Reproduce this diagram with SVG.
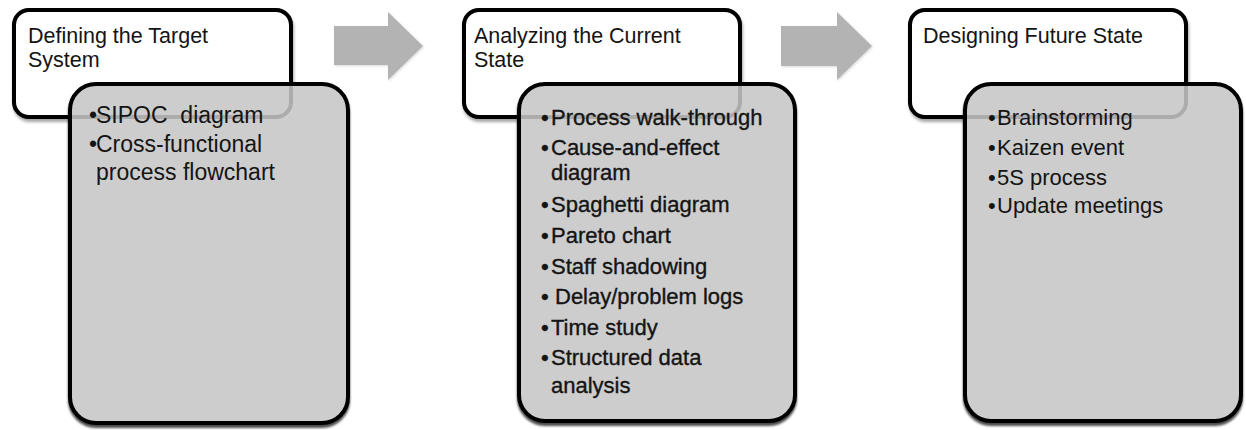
<svg xmlns="http://www.w3.org/2000/svg" width="1246" height="430" viewBox="0 0 1246 430">
<style>
.tbox{fill:#fff;stroke:#000;stroke-width:4;}
.gbox{fill:#cdcdcd;stroke:#000;stroke-width:4;}
.ghost{fill:none;stroke:#000;stroke-opacity:0.16;stroke-width:4;}
.arrow{fill:#b3b3b3;}
text{font-family:"Liberation Sans",Arial,sans-serif;fill:#141414;}
.tt{font-size:21.5px;}
.b1{font-size:23px;}
.b2{font-size:22px;stroke:#141414;stroke-width:0.35;}
.b3{font-size:22px;}
</style>
<defs>
<filter id="sh" x="-10%" y="-10%" width="120%" height="120%">
<feDropShadow dx="1" dy="3" stdDeviation="1.5" flood-color="#000" flood-opacity="0.35"/>
</filter>
<filter id="shg" x="-10%" y="-10%" width="120%" height="120%">
<feDropShadow dx="0" dy="3" stdDeviation="1.2" flood-color="#000" flood-opacity="0.7"/>
</filter>
<filter id="sha" x="-10%" y="-10%" width="130%" height="130%">
<feDropShadow dx="1" dy="1" stdDeviation="1" flood-color="#000" flood-opacity="0.15"/>
</filter>
</defs>
<rect width="1246" height="430" fill="#fff"/>

<g id="node1">
<rect class="tbox" x="14" y="10" width="277" height="107" rx="15" filter="url(#sh)"/>
<text class="tt"><tspan x="28" y="43">Defining the Target</tspan><tspan x="28" y="67">System</tspan></text>
<rect class="gbox" x="70" y="84" width="278" height="339" rx="26" filter="url(#shg)"/>
<rect class="ghost" x="14" y="10" width="277" height="107" rx="15"/>
<text class="b1"><tspan x="89" y="123">•</tspan><tspan x="96" y="123">SIPOC&#160; diagram</tspan><tspan x="89" y="152">•</tspan><tspan x="96" y="152">Cross-functional</tspan><tspan x="96" y="180">process flowchart</tspan></text>
</g>

<g id="node2">
<rect class="tbox" x="464" y="10" width="276" height="107" rx="15" filter="url(#sh)"/>
<text class="tt"><tspan x="474" y="43">Analyzing the Current</tspan><tspan x="474" y="67">State</tspan></text>
<rect class="gbox" x="519" y="84" width="276" height="337" rx="26" filter="url(#shg)"/>
<rect class="ghost" x="464" y="10" width="276" height="107" rx="15"/>
<text class="b2">
<tspan x="541" y="125">•</tspan><tspan x="551" y="125">Process walk-through</tspan>
<tspan x="541" y="155">•</tspan><tspan x="551" y="155">Cause-and-effect</tspan>
<tspan x="551" y="180">diagram</tspan>
<tspan x="541" y="212">•</tspan><tspan x="551" y="212">Spaghetti diagram</tspan>
<tspan x="541" y="243">•</tspan><tspan x="551" y="243">Pareto chart</tspan>
<tspan x="541" y="274">•</tspan><tspan x="551" y="274">Staff shadowing</tspan>
<tspan x="541" y="304">•</tspan><tspan x="555" y="304">Delay/problem logs</tspan>
<tspan x="541" y="335">•</tspan><tspan x="551" y="335">Time study</tspan>
<tspan x="541" y="365">•</tspan><tspan x="551" y="365">Structured data</tspan>
<tspan x="551" y="393">analysis</tspan>
</text>
</g>

<g id="node3">
<rect class="tbox" x="910" y="10" width="276" height="107" rx="15" filter="url(#sh)"/>
<text class="tt"><tspan x="923" y="43">Designing Future State</tspan></text>
<rect class="gbox" x="965" y="84" width="276" height="337" rx="26" filter="url(#shg)"/>
<rect class="ghost" x="910" y="10" width="276" height="107" rx="15"/>
<text class="b3">
<tspan x="988" y="125">•</tspan><tspan x="997" y="125">Brainstorming</tspan>
<tspan x="988" y="155">•</tspan><tspan x="997" y="155">Kaizen event</tspan>
<tspan x="988" y="185">•</tspan><tspan x="997" y="185">5S process</tspan>
<tspan x="988" y="213">•</tspan><tspan x="997" y="213">Update meetings</tspan>
</text>
</g>

<g id="connectors">
<path class="arrow" filter="url(#sha)" d="M334,26 H388 V12 L423,46 L388,80 V65 H334 Z"/>
<path class="arrow" filter="url(#sha)" d="M781,26 H837 V12 L872,46 L837,80 V66 H781 Z"/>
</g>
</svg>
